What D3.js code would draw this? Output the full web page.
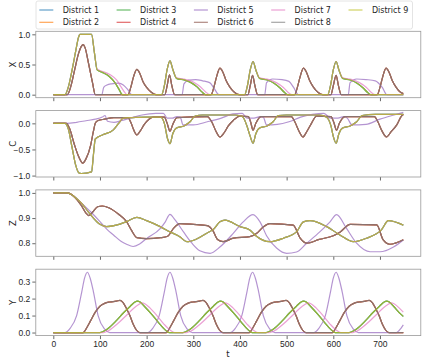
<!DOCTYPE html>
<html>
<head>
<meta charset="utf-8">
<script src="https://cdn.jsdelivr.net/npm/d3@7"></script>
<style>
  body { margin: 0; background: #fff; }
  svg { display: block; font-family: "DejaVu Sans", sans-serif; }
</style>
</head>
<body>
<svg id="chart" width="423" height="360"></svg>
<script>
// districts and colours (tab10)
const districts = ["District 1", "District 2", "District 3", "District 4", "District 5",
                   "District 6", "District 7", "District 8", "District 9"];
const colors = ["#1f77b4", "#ff7f0e", "#2ca02c", "#d62728", "#9467bd",
                "#8c564b", "#e377c2", "#7f7f7f", "#bcbd22"];
// which read-off curve each district follows (K = the pink one, lagging group B)
const districtGroup = ["B", "A", "B", "A", "P", "A", "K", "A", "B"];

const tTicks = [0, 100, 200, 300, 400, 500, 600, 700];

// X panel, [t, value]
const xA = [[0,0],[30,0],[38,0.15],[46,0.42],[54,0.68],[60,0.8],[64,0.83],[68,0.78],[76,0.5],[84,0.2],[90,0],
  [160,0],[166,0.12],[172,0.3],[179,0.42],[185,0.36],[192,0.22],[200,0.12],[210,0.04],[220,0],
  [239,0],[244,0.15],[249,0.33],[254,0.15],[260,0],
  [338,0],[344,0.12],[350,0.3],[357,0.44],[363,0.38],[370,0.24],[378,0.13],[388,0.04],[398,0],
  [417,0],[422,0.15],[427,0.32],[432,0.15],[438,0],
  [517,0],[523,0.12],[529,0.3],[536,0.44],[542,0.38],[549,0.24],[557,0.13],[567,0.04],[577,0],
  [595,0],[600,0.15],[606,0.32],[611,0.15],[617,0],
  [694,0],[700,0.12],[706,0.3],[713,0.44],[719,0.38],[726,0.24],[734,0.13],[744,0.04],[750,0.02]];
const xB = [[0,0],[25,0],[32,0.12],[40,0.4],[48,0.72],[54,0.95],[57,1.0],[82,1.0],[88,0.7],[94,0.41],
  [105,0.37],[120,0.3],[132,0.2],[140,0.1],[148,0],
  [232,0],[238,0.15],[244,0.42],[250,0.56],[256,0.42],[264,0.27],[282,0.24],[295,0.2],[308,0.13],[318,0.05],[326,0],
  [410,0],[416,0.15],[422,0.41],[428,0.55],[434,0.41],[442,0.27],[460,0.24],[473,0.19],[486,0.11],[495,0.04],[502,0],
  [588,0],[594,0.15],[600,0.41],[606,0.55],[612,0.41],[620,0.27],[638,0.24],[651,0.19],[664,0.11],[673,0.04],[680,0],
  [750,0]];
const xK = [[0,0],[25,0],[32,0.12],[40,0.4],[48,0.72],[54,0.95],[57,1.0],[82,1.0],[88,0.7],[94,0.42],
  [108,0.38],[122,0.33],[136,0.24],[146,0.12],[154,0.03],[158,0],
  [232,0],[238,0.15],[244,0.42],[250,0.56],[256,0.42],[264,0.28],[284,0.25],[300,0.21],[315,0.13],[326,0.05],[336,0],
  [410,0],[416,0.15],[422,0.41],[428,0.55],[434,0.41],[442,0.28],[462,0.25],[478,0.2],[493,0.12],[503,0.04],[512,0],
  [588,0],[594,0.15],[600,0.41],[606,0.55],[612,0.41],[620,0.28],[640,0.25],[656,0.2],[671,0.12],[681,0.04],[690,0],
  [750,0]];
const xP = [[0,0],[104,0],[108,0.12],[115,0.16],[125,0.18],[140,0.19],[150,0.16],[160,0.08],[168,0],
  [276,0],[280,0.18],[290,0.24],[305,0.25],[320,0.23],[335,0.2],[345,0.1],[355,0],
  [453,0],[457,0.2],[470,0.26],[490,0.25],[505,0.22],[515,0.12],[525,0],
  [632,0],[636,0.2],[650,0.26],[670,0.25],[690,0.23],[705,0.12],[715,0],[750,0]];

// C panel
const cA = [[0,0],[28,0],[35,-0.1],[45,-0.4],[55,-0.65],[63,-0.76],[70,-0.68],[80,-0.42],[86,-0.15],[90,0],
  [95,0.05],[110,0.08],[130,0.11],[160,0.11],[167,0],[172,-0.12],[179,-0.22],[186,-0.15],[195,-0.02],[205,0.08],
  [214,0.12],[238,0.12],[244,0],[250,-0.15],[256,-0.02],[265,0.11],[330,0.13],[340,0.02],[348,-0.14],[357,-0.26],
  [366,-0.18],[375,-0.05],[386,0.06],[400,0.14],[418,0.13],[423,0.02],[428,-0.13],[434,0],[445,0.13],[510,0.13],
  [518,0.02],[526,-0.14],[535,-0.26],[543,-0.16],[552,-0.02],[564,0.14],[595,0.13],[601,0.02],[607,-0.13],
  [613,0],[625,0.13],[688,0.13],[696,0.02],[704,-0.14],[714,-0.26],[724,-0.16],[736,-0.03],[746,0.14],[750,0.17]];
const cB = [[0,0],[25,0],[32,-0.1],[40,-0.45],[48,-0.8],[55,-0.95],[60,-0.96],[82,-0.93],[86,-0.6],[90,-0.3],
  [106,-0.22],[128,-0.13],[140,0],[150,0.1],[170,0.11],[200,0.12],[230,0.12],[238,0],[245,-0.3],[250,-0.39],
  [256,-0.2],[264,-0.09],[280,-0.05],[293,0.03],[304,0.14],[320,0.16],[390,0.16],[405,0.13],[415,-0.05],
  [422,-0.25],[428,-0.38],[434,-0.2],[442,-0.09],[458,-0.05],[471,0.03],[482,0.15],[500,0.16],[570,0.16],
  [585,0.12],[595,-0.05],[600,-0.25],[606,-0.38],[612,-0.2],[620,-0.09],[636,-0.05],[650,0.03],[662,0.15],
  [690,0.17],[750,0.17]];
const cP = [[0,0],[30,0],[50,0.02],[70,0.05],[90,0.08],[105,0.12],[111,0.15],[116,0.04],[130,0.02],[145,0.05],
  [165,0.1],[190,0.16],[220,0.19],[236,0.19],[244,0.1],[255,0.1],[265,0.13],[272,0.12],[278,-0.03],[300,-0.03],
  [330,0.03],[360,0.1],[385,0.18],[405,0.19],[415,0.1],[430,0.1],[443,0.13],[450,0.12],[457,-0.03],[480,-0.02],
  [505,0.03],[530,0.12],[555,0.17],[580,0.19],[594,0.1],[610,0.1],[622,0.13],[630,0.1],[640,-0.03],[670,-0.02],
  [700,0.08],[730,0.16],[750,0.21]];

// Z panel
const zA = [[0,1],[30,1],[45,0.985],[60,0.95],[70,0.92],[76,0.91],[85,0.925],[95,0.945],[105,0.948],[120,0.94],
  [140,0.915],[157,0.886],[168,0.85],[179,0.822],[200,0.818],[230,0.822],[245,0.828],[258,0.86],[271,0.878],
  [300,0.875],[330,0.87],[342,0.85],[352,0.815],[364,0.806],[386,0.82],[421,0.826],[436,0.84],[450,0.865],
  [464,0.878],[514,0.872],[529,0.82],[543,0.8],[570,0.815],[600,0.83],[615,0.845],[636,0.875],[693,0.873],
  [707,0.813],[721,0.796],[750,0.814]];
const zB = [[0,1],[30,1],[45,0.985],[60,0.96],[75,0.925],[86,0.9],[100,0.875],[114,0.866],[135,0.872],[157,0.886],
  [179,0.903],[200,0.89],[229,0.866],[250,0.845],[271,0.826],[286,0.806],[305,0.815],[329,0.84],[343,0.855],
  [357,0.885],[368,0.892],[400,0.866],[421,0.853],[432,0.833],[464,0.806],[493,0.82],[521,0.845],[536,0.885],
  [550,0.89],[586,0.866],[614,0.833],[643,0.806],[671,0.82],[703,0.853],[718,0.89],[750,0.872]];
const zP = [[0,1],[30,1],[45,0.985],[57,0.965],[80,0.925],[100,0.886],[115,0.855],[129,0.833],[145,0.808],
  [157,0.796],[171,0.787],[185,0.797],[200,0.819],[229,0.858],[240,0.885],[250,0.915],[260,0.895],[279,0.845],
  [297,0.8],[314,0.77],[336,0.76],[357,0.785],[386,0.84],[407,0.885],[428,0.914],[443,0.885],[457,0.83],
  [479,0.78],[500,0.76],[521,0.765],[543,0.8],[571,0.845],[593,0.885],[607,0.914],[628,0.86],[650,0.8],
  [679,0.766],[700,0.766],[729,0.785],[750,0.813]];

// Y panel
const yA = [[0,0],[64,0],[72,0.03],[80,0.07],[90,0.12],[100,0.155],[110,0.172],[121,0.18],[135,0.185],[143,0.19],
  [150,0.175],[157,0.14],[164,0.1],[171,0.05],[178,0.015],[185,0],
  [242,0],[250,0.03],[258,0.07],[268,0.12],[278,0.155],[288,0.172],[299,0.18],[313,0.185],[321,0.19],[328,0.175],
  [335,0.14],[342,0.1],[349,0.05],[356,0.015],[363,0],
  [420,0],[428,0.03],[436,0.07],[446,0.12],[456,0.155],[466,0.172],[477,0.18],[491,0.185],[499,0.19],[506,0.175],
  [513,0.14],[520,0.1],[527,0.05],[534,0.015],[541,0],
  [598,0],[606,0.03],[614,0.07],[624,0.12],[634,0.155],[644,0.172],[655,0.18],[669,0.185],[677,0.19],[684,0.175],
  [691,0.14],[698,0.1],[705,0.05],[712,0.015],[719,0],[750,0]];
const yB = [[0,0],[100,0],[110,0.01],[120,0.03],[135,0.07],[150,0.115],[165,0.155],[175,0.18],[180,0.185],
  [186,0.18],[195,0.155],[210,0.11],[225,0.06],[238,0.02],[248,0],
  [278,0],[288,0.01],[298,0.03],[313,0.07],[328,0.115],[343,0.155],[353,0.18],[358,0.185],[364,0.18],[373,0.155],
  [388,0.11],[403,0.06],[416,0.02],[426,0],
  [456,0],[466,0.01],[476,0.03],[491,0.07],[506,0.115],[521,0.155],[531,0.18],[536,0.185],[542,0.18],[551,0.155],
  [566,0.11],[581,0.06],[594,0.02],[604,0],
  [634,0],[644,0.01],[654,0.03],[669,0.07],[684,0.115],[699,0.155],[709,0.18],[714,0.185],[720,0.18],[729,0.155],
  [744,0.11],[750,0.095]];
const yK = [[0,0],[108,0],[118,0.01],[128,0.03],[143,0.065],[158,0.105],[173,0.145],[183,0.165],[190,0.175],
  [197,0.168],[207,0.145],[222,0.1],[237,0.05],[250,0.015],[260,0],
  [286,0],[296,0.01],[306,0.03],[321,0.065],[336,0.105],[351,0.145],[361,0.165],[368,0.175],[375,0.168],
  [385,0.145],[400,0.1],[415,0.05],[428,0.015],[438,0],
  [464,0],[474,0.01],[484,0.03],[499,0.065],[514,0.105],[529,0.145],[539,0.165],[546,0.175],[553,0.168],
  [563,0.145],[578,0.1],[593,0.05],[606,0.015],[616,0],
  [642,0],[652,0.01],[662,0.03],[677,0.065],[692,0.105],[707,0.145],[717,0.165],[724,0.175],[731,0.168],
  [741,0.145],[750,0.12]];
const yP = [[0,0],[25,0],[36,0.025],[50,0.1],[61,0.24],[67,0.32],[73,0.355],[79,0.32],[86,0.24],[96,0.1],[110,0.02],[121,0],
  [202,0],[213,0.025],[227,0.1],[238,0.24],[244,0.32],[250,0.355],[256,0.32],[263,0.24],[273,0.1],[287,0.02],[298,0],
  [379,0],[390,0.025],[404,0.1],[415,0.24],[421,0.32],[427,0.355],[433,0.32],[440,0.24],[450,0.1],[464,0.02],[475,0],
  [558,0],[569,0.025],[583,0.1],[594,0.24],[600,0.32],[606,0.355],[612,0.32],[619,0.24],[629,0.1],[643,0.02],[654,0],
  [735,0],[745,0.025],[750,0.045]];

const panels = [
  { label: "X", domain: [-0.05, 1.05], ticks: [0, 0.5, 1.0], series: { A: xA, B: xB, K: xK, P: xP } },
  { label: "C", domain: [-1.027, 0.244], ticks: [-1.0, -0.5, 0.0], series: { A: cA, B: cB, K: cB, P: cP } },
  { label: "Z", domain: [0.748, 1.012], ticks: [0.8, 0.9, 1.0], series: { A: zA, B: zB, K: zB, P: zP } },
  { label: "Y", domain: [-0.018, 0.373], ticks: [0, 0.1, 0.2, 0.3], series: { A: yA, B: yB, K: yK, P: yP } }
];

const svg = d3.select("#chart");
const left = 35.8, right = 420.8;
const panelTop = 31.3, panelH = 66.4, panelStep = 79.3;

const x = d3.scaleLinear().domain([-37.5, 787.5]).range([left, right]);
const fmt = d3.format(".1f");
const minus = s => s.replace("-", "\u2212");

const line = d3.line().curve(d3.curveMonotoneX);

panels.forEach((p, i) => {
  const top = panelTop + i * panelStep;
  const y = d3.scaleLinear().domain(p.domain).range([top + panelH, top]);
  line.x(d => x(d[0])).y(d => y(d[1]));

  const g = svg.append("g");
  const clipId = "clip" + i;
  g.append("clipPath").attr("id", clipId)
    .append("rect").attr("x", left).attr("y", top).attr("width", right - left).attr("height", panelH);

  const lines = g.append("g").attr("clip-path", `url(#${clipId})`);
  districts.forEach((name, k) => {
    lines.append("path")
      .datum(p.series[districtGroup[k]])
      .attr("d", line)
      .attr("fill", "none")
      .attr("stroke", colors[k])
      .attr("stroke-opacity", 0.7)
      .attr("stroke-width", 1.2);
  });

  // axes
  const yAxis = d3.axisLeft(y).tickValues(p.ticks).tickSize(3.5).tickPadding(2).tickFormat(d => minus(fmt(d)));
  const ya = g.append("g").attr("transform", `translate(${left},0)`).call(yAxis);
  const xAxis = d3.axisBottom(x).tickValues(tTicks).tickSize(3.5).tickPadding(2)
    .tickFormat(i === panels.length - 1 ? d3.format("d") : () => "");
  const xa = g.append("g").attr("transform", `translate(0,${top + panelH})`).call(xAxis);
  [ya, xa].forEach(a => {
    a.select(".domain").remove();
    a.selectAll("line").attr("stroke", "#444").attr("stroke-width", 0.8);
    a.selectAll("text").attr("fill", "#262626").style("font-size", "8.5px");
  });

  g.append("rect").attr("x", left).attr("y", top).attr("width", right - left).attr("height", panelH)
    .attr("fill", "none").attr("stroke", "#999").attr("stroke-width", 0.8);

  g.append("text")
    .attr("transform", `translate(13,${top + panelH / 2}) rotate(-90)`)
    .attr("text-anchor", "middle").attr("dominant-baseline", "middle")
    .style("font-size", "8.5px").attr("fill", "#262626")
    .text(p.label);
});

svg.append("text").attr("x", 228).attr("y", 357)
  .attr("text-anchor", "middle").style("font-size", "8.5px").attr("fill", "#262626").text("t");

// legend
const legend = svg.append("g");
legend.append("rect").attr("x", 36).attr("y", 1).attr("width", 376.5).attr("height", 28)
  .attr("rx", 2).attr("fill", "#fff").attr("fill-opacity", 0.8).attr("stroke", "#ddd").attr("stroke-width", 0.8);
districts.forEach((name, k) => {
  const col = Math.floor(k / 2), row = k % 2;
  const lx = 39.3 + col * 77.3, ly = 10 + row * 12.3;
  legend.append("line").attr("x1", lx).attr("x2", lx + 14).attr("y1", ly).attr("y2", ly)
    .attr("stroke", colors[k]).attr("stroke-opacity", 0.7).attr("stroke-width", 1.2);
  legend.append("text").attr("x", lx + 23.4).attr("y", ly).attr("dominant-baseline", "central")
    .style("font-size", "8px").attr("fill", "#262626").text(name);
});
</script>
</body>
</html>
